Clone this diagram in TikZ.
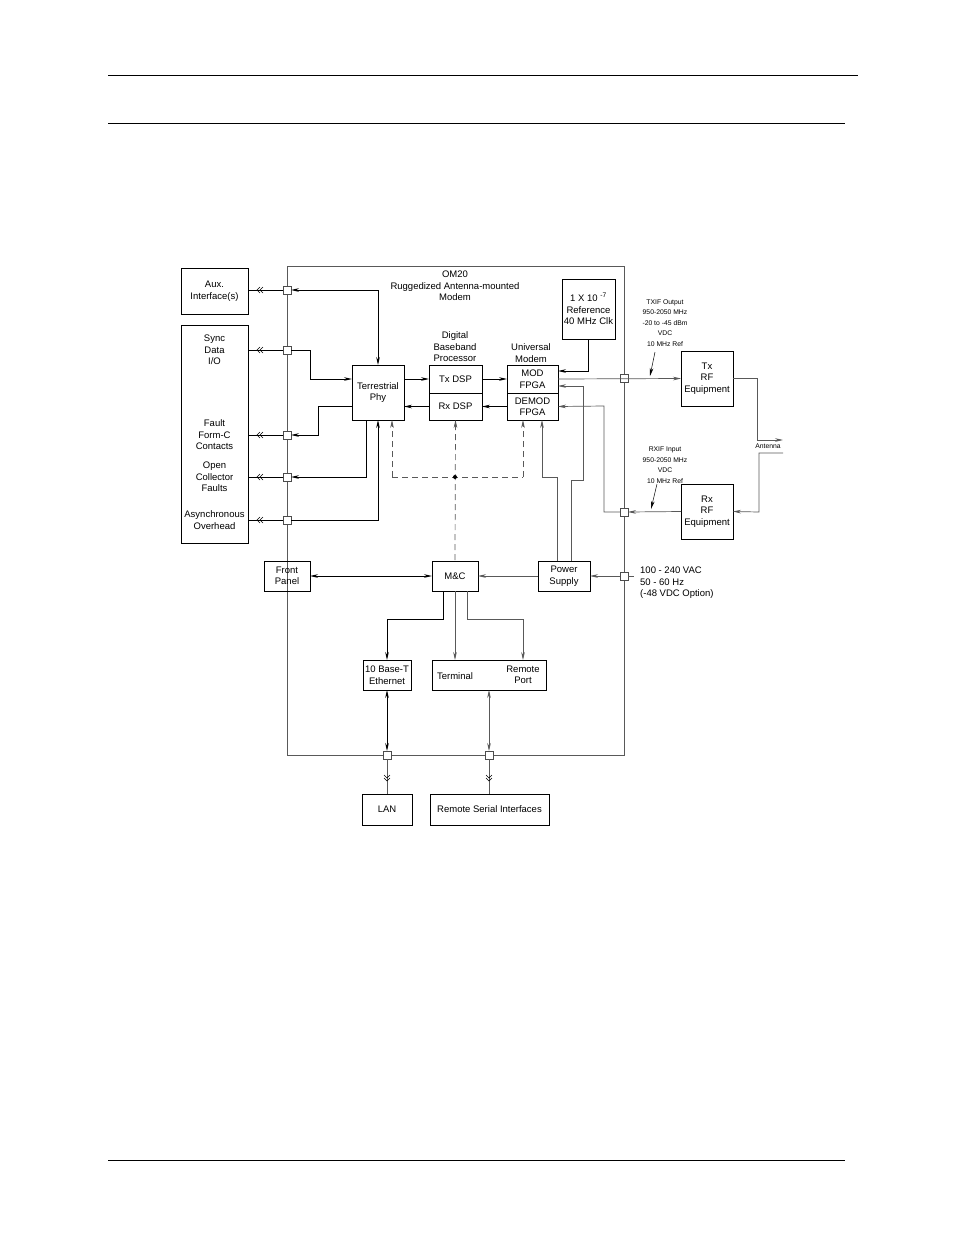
\documentclass[tikz,border=0pt]{standalone}
\usepackage{fontspec}
\setmainfont{Liberation Sans}
\usetikzlibrary{positioning,calc,arrows.meta}

\tikzset{
  box/.style={draw, line width=0.8pt, align=center, inner sep=0pt, outer sep=0pt,
    font=\fontsize{9.5}{11.5}\selectfont},
  sq/.style={draw=black!70, fill=white, line width=0.7pt, minimum size=8pt, inner sep=0pt, outer sep=0pt},
  wire/.style={line width=0.9pt},
  gwire/.style={line width=0.7pt, draw=black!65},
  arr/.style={-{Stealth[length=8pt,width=3.6pt]}},
  darr/.style={{Stealth[length=8pt,width=3.6pt]}-{Stealth[length=8pt,width=3.6pt]}},
  ctrl/.style={dashed, dash pattern=on 6pt off 4pt, line width=0.7pt, draw=black!65},
  lbl/.style={align=center, inner sep=0pt, font=\fontsize{9.5}{11.5}\selectfont},
  small/.style={align=center, inner sep=0pt, font=\fontsize{6.8}{10.5}\selectfont},
  chevl/.pic={\draw[line width=0.5pt] (3,-3)--(0,0)--(3,3) (6,-3)--(3,0)--(6,3);},
  chevd/.pic={\draw[line width=0.5pt] (-3,-3)--(0,0)--(3,-3) (-3,-6)--(0,-3)--(3,-6);}
}

\begin{document}
\begin{tikzpicture}[x=1pt, y=-1pt]
  \useasboundingbox (0,0) rectangle (954,1235);

  % Page rules
  \draw[line width=0.8pt] (108,75) -- (858,75);
  \draw[line width=0.8pt] (108,123) -- (845,123);
  \draw[line width=0.8pt] (108,1160) -- (845,1160);

  % Enclosure
  \draw[gwire] (287,266) rectangle (624,755);
  \node[lbl] (om) at (455,286) {OM20\\Ruggedized Antenna-mounted\\Modem};

  % Outside boxes
  \node[box, minimum width=67pt, minimum height=46pt] (aux) at (214.5,291) {Aux.\\Interface(s)};
  \node[box, minimum width=67pt, minimum height=218pt] (io) at (214.5,434) {};
  \node[lbl] (tsync) at (214.5,350) {Sync\\Data\\I/O};
  \node[lbl] (tfault) at (214.5,435) {Fault\\Form-C\\Contacts};
  \node[lbl] (topen) at (214.5,477) {Open\\Collector\\Faults};
  \node[lbl] (tasync) at (214.5,520) {Asynchronous\\Overhead};

  % Inner blocks
  \node[box, minimum width=52pt, minimum height=55pt] (phy) at (378,392.5) {Terrestrial\\Phy};
  \node[box, minimum width=53pt, minimum height=28pt] (txdsp) at (455.5,379) {Tx DSP};
  \node[box, minimum width=53pt, minimum height=27pt] (rxdsp) at (455.5,406.5) {Rx DSP};
  \node[lbl] (tdbp) at (455,347) {Digital\\Baseband\\Processor};
  \node[box, minimum width=51pt, minimum height=28pt] (mod) at (532.5,379) {MOD\\FPGA};
  \node[box, minimum width=51pt, minimum height=27pt] (demod) at (532.5,406.5) {DEMOD\\FPGA};
  \node[lbl] (tum) at (531,353) {Universal\\Modem};
  \node[box, minimum width=53pt, minimum height=60pt] (ref) at (588.5,309) {1 X 10 \textsuperscript{-7}\\Reference\\40 MHz Clk};

  \node[box, minimum width=52pt, minimum height=55pt] (txrf) at (707,378.5) {Tx\\RF\\Equipment};
  \node[box, minimum width=52pt, minimum height=55pt] (rxrf) at (707,511.5) {Rx\\RF\\Equipment};
  \node[small] (tant) at (768,446) {Antenna};
  \node[small] (ttxif) at (665,323) {TXIF Output\\950-2050 MHz\\-20 to -45 dBm\\VDC\\10 MHz Ref};
  \node[small] (trxif) at (665,465) {RXIF Input\\950-2050 MHz\\VDC\\10 MHz Ref};

  \node[box, minimum width=46pt, minimum height=30pt] (fp) at (287,576) {Front\\Panel};
  \node[box, minimum width=46pt, minimum height=30pt] (mc) at (455,576) {M\&C};
  \node[box, minimum width=52pt, minimum height=30pt] (ps) at (564,576) {Power\\Supply};
  \node[lbl, align=left, anchor=west] (tpwr) at (640,583) {100 - 240 VAC\\50 - 60 Hz\\(-48 VDC Option)};

  \node[box, minimum width=48pt, minimum height=30pt] (eth) at (387,675) {10 Base-T\\Ethernet};
  \node[box, minimum width=114pt, minimum height=30pt] (term) at (489,675) {};
  \node[lbl] (tterm) at (455,676) {Terminal};
  \node[lbl] (tport) at (523,675) {Remote\\Port};
  \node[box, minimum width=50pt, minimum height=31pt] (lan) at (387,809.5) {LAN};
  \node[box, minimum width=119pt, minimum height=31pt] (rsi) at (489.5,809.5) {Remote Serial Interfaces};

  % Ports on the enclosure
  \foreach \n/\y in {qaux/290, qsync/350, qfault/435, qopen/477, qasync/520}
    \node[sq] (\n) at (287,\y) {};
  \node[sq] (qtx) at (624,378) {};
  \node[sq] (qrx) at (624,512) {};
  \node[sq] (qpwr) at (624,576) {};
  \node[sq] (qlan) at (387,755) {};
  \node[sq] (qrsi) at (489,755) {};

  % Left side
  \foreach \n in {qaux, qsync, qfault, qopen, qasync} {
    \draw[wire] (\n.west) -- (io.east |- \n);
    \pic at ($(\n.west)+(-26,0)$) {chevl};
  }
  \draw[wire, darr] (qaux.east) -| (phy.north);
  \draw[wire, arr] (qsync.east) -| (310,379) -- (phy.west |- txdsp);
  \draw[wire, arr] (phy.west |- rxdsp) -| (318,435) -- (qfault.east);
  \draw[wire, arr] (366,420) |- (qopen.east);
  \draw[wire, arr] (qasync.east) -| (378,420);

  % Data path
  \draw[wire, arr] (phy.east |- txdsp) -- (txdsp.west);
  \draw[wire, arr] (rxdsp.west) -- (phy.east |- rxdsp);
  \draw[wire, arr] (txdsp.east) -- (mod.west);
  \draw[wire, arr] (demod.west) -- (rxdsp.east);
  \draw[wire, arr] (ref.south) |- (mod.east |- 0,371);
  \draw[gwire, arr] (mod.east) -- (txrf.west);
  \draw[gwire] (txrf.east) -| (757,440) coordinate (a1);
  \draw[gwire, arr] (a1) -- (783,440);
  \draw[gwire, arr] (783,453) -| (759,512) -- (rxrf.east);
  \draw[gwire, arr] (rxrf.west) -- (qrx.east);
  \draw[gwire, arr] (qrx.west) -| (604,406) -- (demod.east);
  \draw[line width=0.5pt, arr] (655,352) -- (650,376);
  \draw[line width=0.5pt, arr] (657,484) -- (651,509);

  % Control (dashed)
  \draw[ctrl, arr] (392,477) -- (392,420);
  \draw[ctrl, arr] (455,560) -- (rxdsp.south);
  \draw[ctrl, arr] (523,477) -- (523,420);
  \draw[ctrl] (392,477) -- (523,477);
  \fill (455,477) circle (2pt);

  % Power
  \draw[gwire, arr] (qpwr.west) -- (ps.east);
  \draw[gwire] (qpwr.east) -- (634,576);
  \draw[gwire, arr] (ps.north -| 557,0) |- (542,477) -- (542,420);
  \draw[gwire, arr] (ps.north -| 571,0) |- (583,480) |- (mod.east |- 0,386);

  % M&C
  \draw[wire, darr] (fp.east) -- (mc.west);
  \draw[gwire, arr] (ps.west) -- (mc.east);
  \draw[wire, arr] (mc.south -| 443,0) |- (387,619) -- (eth.north);
  \draw[gwire, arr] (mc.south) -- (455,660);
  \draw[gwire, arr] (mc.south -| 467,0) |- (523,619) -- (523,660);

  % External ports
  \draw[wire, darr] (eth.south) -- (qlan.north);
  \draw[gwire, darr] (489,690) -- (qrsi.north);
  \draw[gwire] (qlan.south) -- (lan.north);
  \draw[gwire] (qrsi.south) -- (489,794);
  \pic at (387,781) {chevd};
  \pic at (489,781) {chevd};
\end{tikzpicture}
\end{document}
